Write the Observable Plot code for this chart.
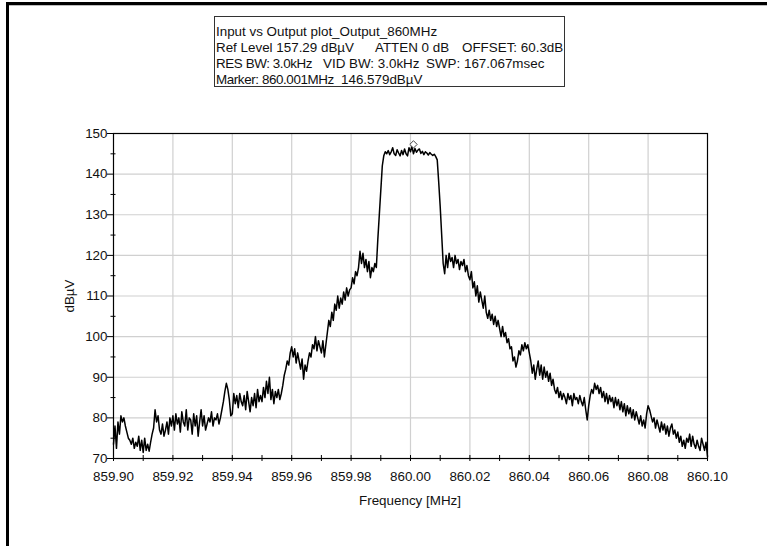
<!DOCTYPE html>
<html>
<head>
<meta charset="utf-8">
<script src="https://cdn.jsdelivr.net/npm/d3@7"></script>
<script src="https://cdn.jsdelivr.net/npm/@observablehq/plot@0.6"></script>
<style>
  html, body { margin: 0; padding: 0; background: #fff; }
  #wrap { position: relative; width: 767px; height: 546px; overflow: hidden; background: #fff;
          font-family: "Liberation Sans", Arial, sans-serif; color: #111; }
  #wrap svg { position: absolute; left: 0; top: 0; }
  .frameTop { position: absolute; left: 6px; top: 2px; width: 761px; height: 3px; background: #000; }
  .frameTop2 { position: absolute; left: 9px; top: 5px; width: 758px; height: 1px; background: #bdbdbd; }
  .frameLeft { position: absolute; left: 6px; top: 2px; width: 2.5px; height: 544px; background: #000; }
  .box { position: absolute; left: 214px; top: 16px; width: 349px; height: 69px; border: 1.5px solid #333; background: #fff; }
  .t { position: absolute; font-size: 13.4px; line-height: 16px; white-space: pre; color: #111; }
  .xl { position: absolute; left: 310px; width: 200px; top: 493px; text-align: center; font-size: 13.4px; line-height: 16px; }
  .yl { position: absolute; left: 40px; top: 288px; width: 60px; text-align: center; font-size: 13.4px; line-height: 16px; transform: rotate(-90deg); transform-origin: 30px 8px; }
</style>
</head>
<body>
<div id="wrap">
  <div class="frameTop"></div>
  <div class="frameTop2"></div>
  <div class="frameLeft"></div>
</div>
<script>
// ---- data ----
const startMHz = 859.90;
const stepMHz = 0.0005;
const levels = [
  73.5, 78, 72.5, 79, 76, 80.5, 79, 80, 78, 76.5, 75, 74.5, 73.5, 75, 72.5, 74, 73, 75.5, 72, 74.5,
  71.5, 75, 72, 73.5, 71.8, 74, 76, 77.5, 82, 79, 80.5, 77, 76, 78.5, 75.5, 77, 79, 76, 80, 78,
  80.5, 77, 81, 78.5, 80, 76.5, 81.5, 79, 78, 82, 77, 80, 79.5, 76, 81, 78, 80.5, 75.5, 79, 82,
  78, 80.5, 77, 78.5, 80, 79, 81.5, 78, 80, 79.5, 81, 78.5, 80, 82, 84, 86.5, 88.5, 87, 84.5, 80.5,
  81, 86, 83.5, 85.5, 82.5, 86, 84, 83, 85.5, 82, 86.5, 84, 81.5, 85, 83, 86, 82.5, 87, 84, 85.5,
  84, 87.5, 85, 89, 86, 90, 84.5, 87, 83.5, 86.5, 85, 87, 84.5, 86, 88, 90.5, 92, 94, 93, 96,
  97.5, 95, 97, 93.5, 96, 94, 92, 94.5, 89.5, 93, 91.5, 94, 96, 95, 98, 97, 100, 96.5, 99, 97.5,
  96, 99, 95, 98, 101, 104, 102.5, 106, 104, 108, 106.5, 110, 107, 109.5, 108, 111, 109, 112, 110, 111.5,
  112, 114.5, 113, 116, 115, 117, 121, 118, 120.5, 117, 119, 116, 118.5, 114.5, 117, 116, 118, 117, 124, 130,
  136, 142, 144.5, 145.5, 145, 145.8, 144.8, 145.5, 146.5, 145, 144.6, 146, 145.2, 144.5, 145.8, 144.8, 146.2, 145, 144.5, 146.5,
  145.5, 146.8, 145, 146.3, 145.4, 145.9, 146.2, 145.1, 145.6, 144.8, 145.5, 145.2, 144.7, 145.3, 144.9, 144.6, 144.9, 144.3, 143.5, 138,
  132, 125, 118, 115.5, 120, 117, 120.5, 118.5, 119.5, 117, 120, 118, 119, 116.5, 118.5, 117.5, 119, 116, 117.5, 115,
  114, 116, 112, 113.5, 110, 112.5, 108.5, 111, 109, 107, 110, 106, 104.5, 106.5, 104, 105.5, 103, 105, 102.5, 104,
  102, 100, 102.5, 100, 101, 98.5, 99.5, 97, 97.5, 94, 95, 92.5, 94, 96.5, 95.5, 98, 96.5, 98.5, 97, 98,
  96, 94, 91, 93, 89.5, 92, 94, 90.5, 93, 89.5, 92.5, 90, 91.5, 89, 91, 88, 89.5, 87, 86, 87.5,
  85, 86.5, 84.5, 86, 85, 83.5, 86, 84.5, 85.5, 83, 86, 84.5, 85, 83.5, 85.5, 84, 83, 85, 82, 79.5,
  83, 85.5, 87, 86, 88.5, 87, 88, 86, 87.5, 85, 86.5, 84, 86, 83.5, 85.5, 84, 85, 82.5, 85, 83,
  84.5, 82, 84, 81.5, 83.5, 80.5, 83, 81, 82.5, 80, 82, 79.5, 81.5, 80, 78.5, 80.5, 78, 79.5, 77.5, 81,
  83, 82, 80.5, 79, 80, 77.5, 79.5, 78, 76.5, 79, 77, 78.5, 76, 78, 75.5, 77.5, 78.5, 76, 77, 75,
  76.5, 74, 75.5, 73, 74.5, 72.5, 75, 74, 76, 73, 75.5, 73.5, 72.5, 74.5, 73, 72, 75, 73.5, 72, 74,
  70.5
];
const markerFreq = 860.001;
const markerLevel = 146.579;
const xMajorTicks = [859.90, 859.92, 859.94, 859.96, 859.98, 860.00, 860.02, 860.04, 860.06, 860.08, 860.10];
const xMinorTicks = [859.90, 859.91, 859.92, 859.93, 859.94, 859.95, 859.96, 859.97, 859.98, 859.99, 860.00,
                     860.01, 860.02, 860.03, 860.04, 860.05, 860.06, 860.07, 860.08, 860.09, 860.10];
const yMajorTicks = [70, 80, 90, 100, 110, 120, 130, 140, 150];
const yMinorTicks = [75, 85, 95, 105, 115, 125, 135, 145];
const infoLines = [
  [["Input vs Output plot_Output_860MHz", 216]],
  [["Ref Level 157.29 dBµV", 216], ["ATTEN 0 dB", 375], ["OFFSET: 60.3dB", 462]],
  [["RES BW: 3.0kHz", 216], ["VID BW: 3.0kHz", 323], ["SWP: 167.067msec", 426]],
  [["Marker: 860.001MHz", 216], ["146.579dBµV", 341]]
];
const xTitle = "Frequency [MHz]";
const yTitle = "dBµV";

// ---- build ----
const trace = levels.map((v, i) => ({f: startMHz + i * stepMHz, v}));
const gridX = xMajorTicks.slice(1, -1);
const gridY = yMajorTicks.slice(1, -1);

const chart = Plot.plot({
  width: 767,
  height: 546,
  marginLeft: 113,
  marginRight: 60,
  marginTop: 133,
  marginBottom: 88,
  x: {domain: [859.90, 860.10]},
  y: {domain: [70, 150]},
  style: {fontFamily: "'Liberation Sans', Arial, sans-serif", fontSize: "13.4px", color: "#111", background: "transparent"},
  marks: [
    Plot.ruleX(gridX, {stroke: "#d0d0d0", strokeWidth: 1.2}),
    Plot.ruleY(gridY, {stroke: "#d0d0d0", strokeWidth: 1.2}),
    Plot.frame({stroke: "#000", strokeWidth: 1.2}),
    Plot.axisY(yMajorTicks, {tickSize: 6, tickPadding: 0, tickFormat: d => String(d), label: null, stroke: "#000"}),
    Plot.axisY(yMinorTicks, {tickSize: 5, dx: 2.5, tickFormat: () => "", label: null, stroke: "#000"}),
    Plot.axisX(xMinorTicks, {tickSize: 6, dy: -3, tickFormat: () => "", label: null, stroke: "#000"}),
    Plot.axisX(xMajorTicks, {tickSize: 0, tickPadding: 13, tickFormat: d3.format(".2f"), label: null}),
    Plot.line(trace, {x: "f", y: "v", stroke: "#000", strokeWidth: 1.5}),
    Plot.dot([{f: markerFreq, v: markerLevel}], {x: "f", y: "v", symbol: "diamond2", r: 3.3, stroke: "#444", fill: "#fff", strokeWidth: 1, dy: -3})
  ]
});
const wrap = document.getElementById("wrap");
wrap.appendChild(chart);

const box = document.createElement("div");
box.className = "box";
wrap.appendChild(box);
const lineTops = [23.7, 39.5, 55.5, 72];
infoLines.forEach((segs, li) => {
  segs.forEach(([txt, x], si) => {
    const s = document.createElement("span");
    s.className = "t";
    s.textContent = txt;
    s.style.left = x + "px";
    s.style.top = lineTops[li] + "px";
    if (li >= 2 && si === 0) s.style.letterSpacing = "-0.4px";
    wrap.appendChild(s);
  });
});
const xl = document.createElement("div");
xl.className = "xl"; xl.textContent = xTitle; wrap.appendChild(xl);
const yl = document.createElement("div");
yl.className = "yl"; yl.textContent = yTitle; wrap.appendChild(yl);
</script>
</body>
</html>
